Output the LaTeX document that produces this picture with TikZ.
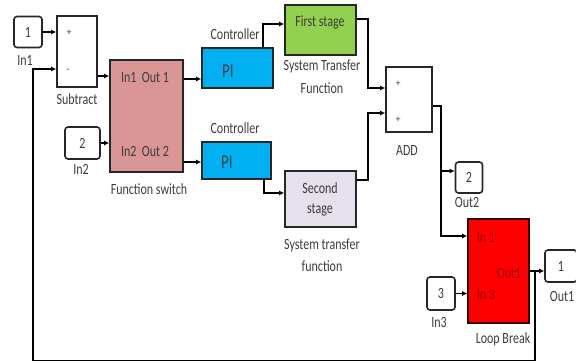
\documentclass[tikz,border=0pt]{standalone}
\usepackage{fontspec}
\setmainfont{Carlito}
\usetikzlibrary{arrows.meta}
\definecolor{swpink}{RGB}{217,150,148}
\definecolor{picyan}{RGB}{0,176,240}
\definecolor{stgreen}{RGB}{146,208,80}
\definecolor{stlav}{RGB}{229,224,236}
\definecolor{lbred}{RGB}{255,0,0}
\definecolor{lbtext}{RGB}{150,0,0}
\definecolor{lbl}{RGB}{60,60,60}
\newcommand{\tl}[1]{\scalebox{1}[1.3]{#1}}
\begin{document}
\begin{tikzpicture}[x=1pt,y=-1pt,
  blk/.style={draw=black!85,line width=1.6pt,inner sep=0pt},
  port/.style={blk,rounded corners=3pt,fill=white},
  txt/.style={text=lbl,font=\fontsize{12}{14}\selectfont,inner sep=0pt},
  sgn/.style={txt,font=\fontsize{10}{12}\selectfont},
  arr/.style={line width=1.3pt,-{Latex[length=5pt,width=5pt]}},
  wire/.style={line width=1.3pt}]
\useasboundingbox (0,0) rectangle (576,362);

\node[port,minimum width=28pt,minimum height=31pt] (in1) at (28,32) {};
\node[blk,minimum width=40pt,minimum height=71pt] (sub) at (77,51.5) {};
\node[blk,fill=swpink,minimum width=73pt,minimum height=112pt] (fs) at (146.5,116) {};
\node[port,minimum width=35pt,minimum height=32pt] (in2) at (82.5,143) {};
\node[blk,fill=picyan,minimum width=71pt,minimum height=40pt] (pia) at (237.5,68) {};
\node[blk,fill=picyan,minimum width=69pt,minimum height=37pt] (pib) at (236.5,160.5) {};
\node[blk,fill=stgreen,minimum width=71pt,minimum height=50pt] (first) at (320.5,30) {};
\node[blk,fill=stlav,minimum width=71pt,minimum height=56pt] (second) at (320.5,199) {};
\node[blk,minimum width=46pt,minimum height=65pt] (add) at (409,99.5) {};
\node[port,minimum width=27pt,minimum height=31pt] (out2) at (469,177.5) {};
\node[blk,draw=black!80!red,fill=lbred,minimum width=61pt,minimum height=104pt] (lb) at (498.5,271) {};
\node[port,minimum width=28pt,minimum height=33pt] (in3) at (441,293.5) {};
\node[port,minimum width=32pt,minimum height=32pt] (out1) at (561,266) {};

\node[txt] (in1n) at (in1) {\tl{1}};
\node[txt] (in1l) at (25,60) {\tl{In1}};
\node[sgn] (subp) at (69,33) {+};
\node[sgn] (subm) at (68,71) {-};
\node[txt] (subl) at (77,99) {\tl{Subtract}};
\node[txt] (fsa) at (145,77) {\tl{In1\ \ Out 1}};
\node[txt] (fsb) at (145,151) {\tl{In2\ \ Out 2}};
\node[txt] (fsl) at (149,189) {\tl{Function switch}};
\node[txt] (in2n) at (in2) {\tl{2}};
\node[txt] (in2l) at (81,169) {\tl{In2}};
\node[txt] (ctla) at (235,34) {\tl{Controller}};
\node[txt] (ctlb) at (235,128) {\tl{Controller}};
\node[txt,text=black!75,font=\fontsize{15}{17}\selectfont] (pian) at (228,71) {\tl{PI}};
\node[txt,text=black!75,font=\fontsize{15}{17}\selectfont] (pibn) at (227,162) {\tl{PI}};
\node[txt] (firstn) at (320,22) {\tl{First stage}};
\node[txt] (firsta) at (322,66) {\tl{System Transfer}};
\node[txt] (firstb) at (322,88) {\tl{Function}};
\node[txt] (seca) at (320,188) {\tl{Second}};
\node[txt] (secb) at (320,210) {\tl{stage}};
\node[txt] (secc) at (322,245) {\tl{System transfer}};
\node[txt] (secd) at (322,266) {\tl{function}};
\node[sgn] (addp) at (398,84) {+};
\node[sgn] (addq) at (398,120) {+};
\node[txt] (addl) at (407,150) {\tl{ADD}};
\node[txt] (out2n) at (out2) {\tl{2}};
\node[txt] (out2l) at (467,202) {\tl{Out2}};
\node[txt,text=lbtext] (lba) at (486,237) {\tl{In 1}};
\node[txt,text=lbtext] (lbb) at (486,294) {\tl{In 3}};
\node[txt,text=lbtext] (lbc) at (509,273) {\tl{Out1}};
\node[txt] (lbl) at (503,339) {\tl{Loop Break}};
\node[txt] (in3n) at (in3) {\tl{3}};
\node[txt] (in3l) at (439,322) {\tl{In3}};
\node[txt] (out1n) at (out1) {\tl{1}};
\node[txt] (out1l) at (562,296) {\tl{Out1}};

\coordinate (fbr) at (535,271);
\coordinate (fbl) at (33,360.5);
\coordinate (sumx) at (368,150);
\coordinate (outx) at (441,171);

\draw[arr] (in1.east) -- (in1.east -| sub.west);
\draw[arr] (fbr) -- (fbr |- fbl) -- (fbl) -- (fbl |- 0,69) -- (sub.west |- 0,69);
\draw[arr] (sub.east |- 0,76) -- (fs.west |- 0,76);
\draw[arr] (in2.east) -- (in2.east -| fs.west);
\draw[arr] (fs.east |- 0,79) -- (pia.west |- 0,79);
\draw[arr] (fs.east |- 0,162) -- (pib.west |- 0,162);
\draw[arr] (pia.north -| 263,0) -- (263,24) -- (first.west |- 0,24);
\draw[arr] (pib.south -| 264,0) -- (264,193) -- (second.west |- 0,193);
\draw[arr] (first.east |- 0,19) -- (sumx |- 0,19) -- (sumx |- 0,88) -- (add.west |- 0,88);
\draw[arr] (second.east |- 0,180) -- (sumx |- 0,180) -- (sumx |- 0,113) -- (add.west |- 0,113);
\draw[arr] (add.east |- 0,106) -- (outx |- 0,106) -- (outx) -- (outx -| out2.west);
\draw[arr] (outx) -- (outx |- 0,236) -- (lb.west |- 0,236);
\draw[arr] (in3.east) -- (in3.east -| lb.west);
\draw[arr] (lb.east) -- (lb.east -| out1.west);
\end{tikzpicture}
\end{document}
